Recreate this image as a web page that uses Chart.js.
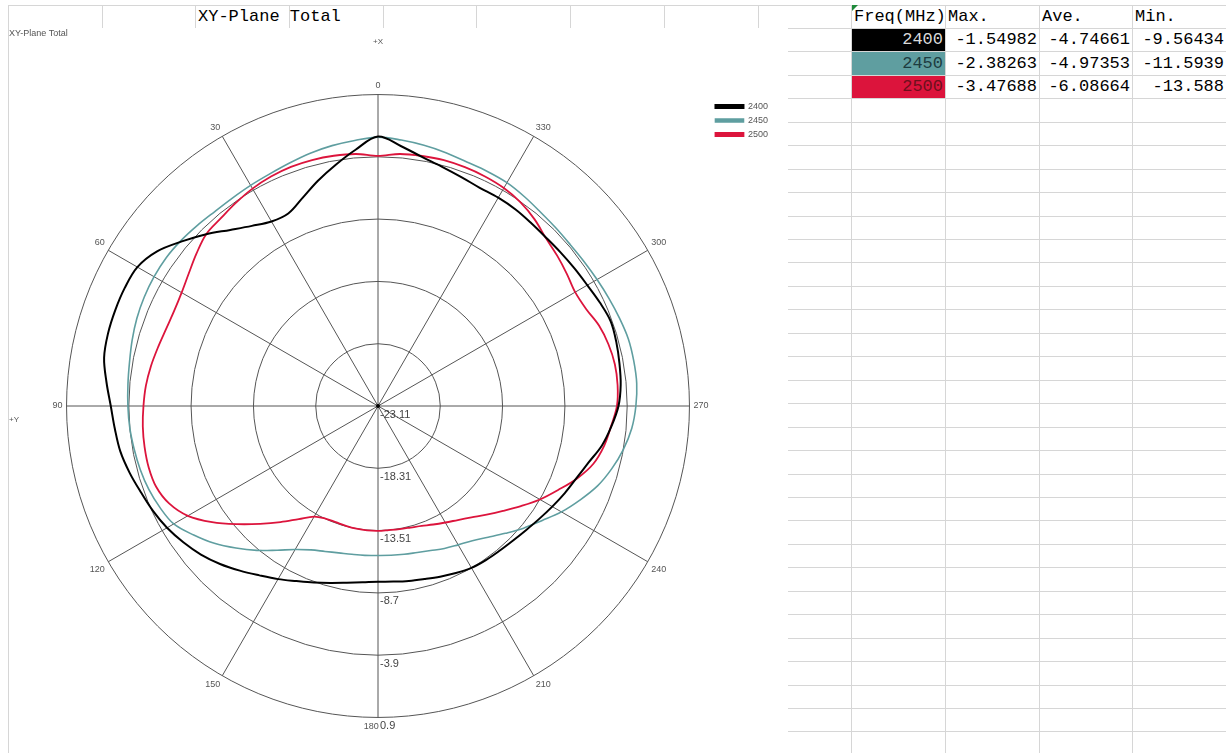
<!DOCTYPE html>
<html>
<head>
<meta charset="utf-8">
<script src="https://cdn.jsdelivr.net/npm/chart.js@4.4.1/dist/chart.umd.min.js"></script>
<style>
  html, body { margin: 0; padding: 0; background: #fff; }
  body { width: 1226px; height: 753px; position: relative; overflow: hidden; }
  .gl { position: absolute; background: #d6d6d6; }
  .cell {
    position: absolute; box-sizing: border-box; padding: 0 2px;
    font-family: "Liberation Mono", "DejaVu Sans Mono", monospace;
    font-size: 17px; line-height: 23px; white-space: nowrap; color: #000;
  }
  .num { text-align: right; }
  .flag { position: absolute; left: 852px; top: 5px; width: 0; height: 0;
          border-top: 6px solid #1e8a3a; border-right: 6px solid transparent; }
  #chartBox { position: absolute; left: 9px; top: 28px; width: 779px; height: 725px; background: #fff; }
</style>
</head>
<body>
<div id="sheet"></div>
<div id="chartBox"><canvas id="polarChart"></canvas></div>
<script>
// measured angle (deg, counter-clockwise from +X at the top)
const ANGLES = [0, 5, 10, 15, 20, 25, 30, 35, 40, 45, 50, 55, 60, 65, 70, 75, 80, 85,
  90, 95, 100, 105, 110, 115, 120, 125, 130, 135, 140, 145, 150, 155, 160, 165, 170, 175,
  180, 185, 190, 195, 200, 205, 210, 215, 220, 225, 230, 235, 240, 245, 250, 255, 260, 265,
  270, 275, 280, 285, 290, 295, 300, 305, 310, 315, 320, 325, 330, 335, 340, 345, 350, 355];

// total gain, dB
const GAIN_2400 = [-2.34, -3.28, -4.24, -5.15, -6.06, -6.74, -6.69, -6.16, -5.39, -4.38, -3.37, -2.32,
  -1.69, -1.57, -1.55, -1.56, -1.67, -2.10, -2.51, -2.75, -2.94, -3.28, -3.66, -3.97,
  -4.33, -4.79, -5.29, -5.89, -6.54, -7.17, -7.70, -8.22, -8.63, -8.99, -9.28, -9.47,
  -9.56, -9.52, -9.42, -9.30, -9.11, -8.90, -8.70, -8.61, -8.54, -8.42, -8.22, -7.94,
  -7.60, -7.22, -6.83, -6.30, -5.58, -5.05, -4.57, -4.33, -4.21, -4.09, -4.02, -4.24,
  -4.48, -4.62, -4.72, -4.77, -4.72, -4.62, -4.57, -4.55, -4.33, -4.02, -3.61, -2.99];

const GAIN_2450 = [-2.38, -2.56, -2.73, -2.94, -3.18, -3.37, -3.47, -3.54, -3.54, -3.42, -3.28, -3.18,
  -3.18, -3.23, -3.33, -3.49, -3.66, -3.76, -3.83, -3.90, -4.02, -4.14, -4.31, -4.57,
  -4.93, -5.77, -6.64, -7.62, -8.58, -9.54, -10.34, -10.87, -11.18, -11.39, -11.50, -11.55,
  -11.59, -11.56, -11.50, -11.42, -11.25, -10.99, -10.75, -10.43, -9.90, -9.23, -8.46, -7.70,
  -6.78, -5.94, -5.10, -4.45, -3.90, -3.47, -3.23, -3.09, -3.09, -3.13, -3.30, -3.47,
  -3.61, -3.71, -3.76, -3.71, -3.61, -3.42, -3.23, -3.16, -3.09, -2.89, -2.70, -2.53];

const GAIN_2500 = [-3.83, -3.61, -3.52, -3.48, -3.49, -3.59, -3.76, -4.00, -4.24, -4.38, -4.84, -5.30,
  -5.63, -5.77, -5.73, -5.56, -5.34, -5.15, -5.03, -4.91, -4.84, -4.81, -4.91, -5.34,
  -6.18, -7.50, -8.94, -10.26, -11.42, -12.47, -13.27, -13.53, -13.58, -13.55, -13.51, -13.48,
  -13.48, -13.51, -13.48, -13.41, -13.27, -13.03, -12.74, -12.38, -11.90, -11.27, -10.53, -9.66,
  -8.70, -7.79, -6.78, -5.92, -5.41, -5.08, -4.69, -4.57, -4.57, -4.72, -4.98, -5.41,
  -5.56, -5.34, -5.08, -4.81, -4.33, -3.95, -3.71, -3.59, -3.52, -3.49, -3.54, -3.61];

const RING_TICKS = [-23.11, -18.31, -13.51, -8.7, -3.9, 0.9];
const FREQS = ["2400", "2450", "2500"];
const SERIES_COLORS = ["#000000", "#5f9ea0", "#dc143c"];
const MAX_VALUES = ["-1.54982", "-2.38263", "-3.47688"];
const AVE_VALUES = ["-4.74661", "-4.97353", "-6.08664"];
const MIN_VALUES = ["-9.56434", "-11.5939", "-13.588"];

// ---- spreadsheet behind the chart ----
const COL_W = 93.69;
const ROW_H = 23.45;
const GRID_X0 = 8;
const GRID_Y0 = 4.5;
const sheet = document.getElementById("sheet");

for (let k = 0; k <= 13; k++) {
  const d = document.createElement("div");
  d.className = "gl";
  d.style.cssText = `left:${Math.round(GRID_X0 + k * COL_W)}px;top:${Math.round(GRID_Y0)}px;width:1px;height:753px`;
  sheet.appendChild(d);
}
for (let k = 0; k <= 32; k++) {
  const d = document.createElement("div");
  d.className = "gl";
  d.style.cssText = `left:${GRID_X0}px;top:${Math.round(GRID_Y0 + k * ROW_H)}px;width:1226px;height:1px`;
  sheet.appendChild(d);
}

function addCell(col, row, text, extra) {
  const d = document.createElement("div");
  d.className = "cell" + (extra && extra.num ? " num" : "");
  const x = Math.round(GRID_X0 + col * COL_W) + 1;
  const y = Math.round(GRID_Y0 + row * ROW_H) + 1;
  const x2 = Math.round(GRID_X0 + (col + 1) * COL_W);
  const y2 = Math.round(GRID_Y0 + (row + 1) * ROW_H);
  d.style.left = x + "px";
  d.style.top = y + "px";
  d.style.width = (x2 - x) + "px";
  d.style.height = (y2 - y) + "px";
  d.style.lineHeight = (y2 - y) + "px";
  if (extra && extra.bg) d.style.background = extra.bg;
  if (extra && extra.color) d.style.color = extra.color;
  if (extra && extra.overflow) d.style.width = "auto";
  d.textContent = text;
  sheet.appendChild(d);
}

addCell(2, 0, "XY-Plane Total", { overflow: true });
addCell(9, 0, "Freq(MHz)");
addCell(10, 0, "Max.");
addCell(11, 0, "Ave.");
addCell(12, 0, "Min.");
const textColors = ["#d9d9d9", "#1d3c40", "#6e0f1c"];
FREQS.forEach((f, i) => {
  addCell(9, i + 1, f, { num: true, bg: SERIES_COLORS[i], color: textColors[i] });
  addCell(10, i + 1, MAX_VALUES[i], { num: true });
  addCell(11, i + 1, AVE_VALUES[i], { num: true });
  addCell(12, i + 1, MIN_VALUES[i], { num: true });
});
const flag = document.createElement("div");
flag.className = "flag";
sheet.appendChild(flag);

// ---- polar chart ----
// Chart.js runs clockwise from the top, the measurement runs counter-clockwise
const n = ANGLES.length;
const order = ANGLES.map((a, p) => (n - p) % n);
const displayAngles = order.map(i => ANGLES[i]);
const pick = arr => order.map(i => arr[i]);
const seriesData = [GAIN_2400, GAIN_2450, GAIN_2500];
const lineWidths = [2, 1.6, 1.8];

const overlayPlugin = {
  id: "overlay",
  afterDraw(chart) {
    const ctx = chart.ctx;
    const r = chart.scales.r;
    ctx.save();
    ctx.fillStyle = "#000";
    ctx.beginPath();
    ctx.arc(r.xCenter, r.yCenter, 2, 0, Math.PI * 2);
    ctx.fill();

    // ring values, down the 180 spoke
    ctx.font = '11px "Liberation Sans", Arial, sans-serif';
    ctx.fillStyle = "#444";
    ctx.textAlign = "left";
    ctx.textBaseline = "top";
    RING_TICKS.forEach(v => {
      const d = r.getDistanceFromCenterForValue(v);
      ctx.fillText(String(v), r.xCenter + 2, r.yCenter + d + 3);
    });

    ctx.font = '8px "Liberation Sans", Arial, sans-serif';
    ctx.fillStyle = "#555";
    ctx.textAlign = "center";
    ctx.fillText("+X", r.xCenter, 10);
    ctx.textAlign = "left";
    ctx.fillText("+Y", 0, r.yCenter + 10);
    ctx.font = '9px "Liberation Sans", Arial, sans-serif';
    ctx.fillText("XY-Plane Total", 0, 1);
    ctx.restore();
  }
};

const polarChart = new Chart(document.getElementById("polarChart"), {
  type: "radar",
  data: {
    labels: displayAngles,
    datasets: FREQS.map((f, i) => ({
      label: f,
      data: pick(seriesData[i]),
      borderColor: SERIES_COLORS[i],
      backgroundColor: SERIES_COLORS[i],
      borderWidth: lineWidths[i],
      fill: false,
      pointRadius: 0,
      pointHoverRadius: 0,
      tension: 0.35,
    })),
  },
  options: {
    responsive: true,
    maintainAspectRatio: false,
    animation: false,
    layout: { padding: { left: 42, right: 10, top: 51, bottom: 20 } },
    scales: {
      r: {
        min: -23.11,
        max: 0.9,
        afterBuildTicks: scale => {
          scale.ticks = RING_TICKS.map(v => ({ value: v }));
        },
        ticks: { display: false },
        grid: { circular: true, color: "#555", lineWidth: 1 },
        angleLines: {
          color: "#555",
          lineWidth: ctx => (displayAngles[ctx.index] % 30 === 0 ? 1 : 0),
        },
        pointLabels: {
          font: { size: 9, family: '"Liberation Sans", Arial, sans-serif' },
          color: "#555",
          padding: 4,
          callback: label => {
            if (label % 30 !== 0) return "";
            // the bottom label sits left of the spoke, next to the ring value
            return label === 180 ? "180\u2002\u2002\u2002" : String(label);
          },
        },
      },
    },
    plugins: {
      legend: {
        position: "right",
        align: "start",
        title: { display: true, text: " ", padding: { top: 8, bottom: 0 }, font: { size: 10, lineHeight: 1 } },
        labels: {
          boxWidth: 28,
          boxHeight: 3,
          padding: 5,
          color: "#555",
          font: { size: 9, family: '"Liberation Sans", Arial, sans-serif' },
        },
      },
      tooltip: { enabled: false },
    },
  },
  plugins: [overlayPlugin],
});
</script>
</body>
</html>
